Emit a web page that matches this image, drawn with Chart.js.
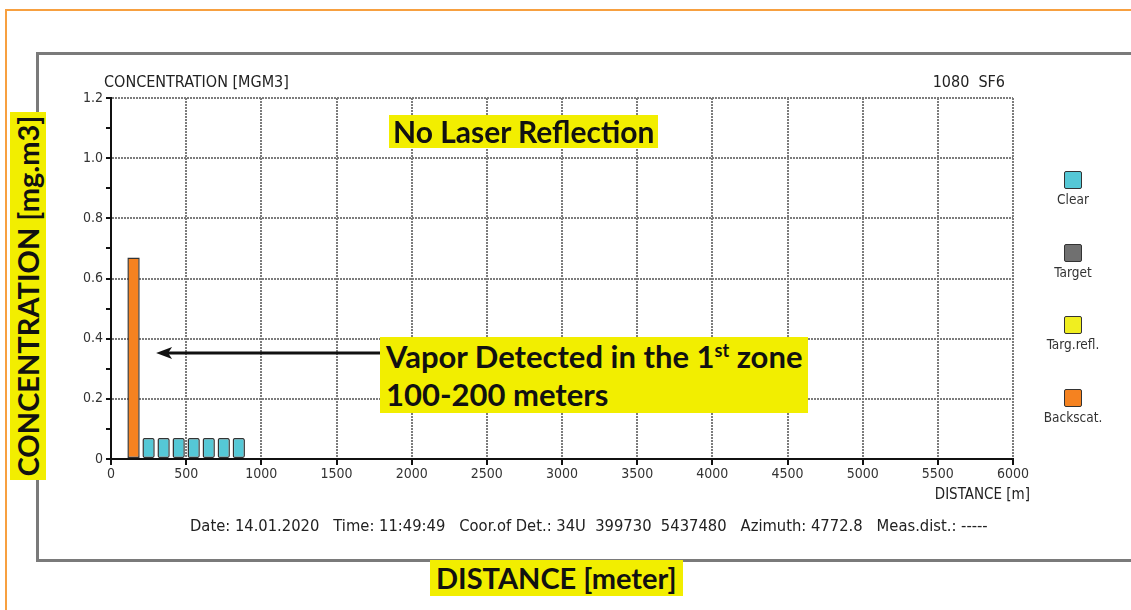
<!DOCTYPE html>
<html>
<head>
<meta charset="utf-8">
<script src="https://cdn.jsdelivr.net/npm/chart.js@4"></script>
<style>
  html, body { margin: 0; padding: 0; background: #fff; }
  #page { position: relative; width: 1131px; height: 610px; overflow: hidden; }
  #outer { position: absolute; left: 5px; top: 9px; width: 1140px; height: 620px; border: 2px solid #f7a040; box-sizing: border-box; }
  #frame { position: absolute; left: 36px; top: 52px; width: 1110px; height: 510px; border: 3px solid #7a7a7a; box-sizing: border-box; border-right: none; }
  #wrap { position: absolute; left: 0; top: 0; width: 1131px; height: 610px; }
  .small { position: absolute; font-family: "DejaVu Sans Condensed", "DejaVu Sans", sans-serif; font-size: 16px; color: #222; white-space: nowrap; }
  .note { position: absolute; background: #f2ee00; font-family: Lato, "Open Sans", sans-serif; font-weight: bold; color: #111; white-space: nowrap; }
  #legend { position: absolute; left: 1025px; top: 171px; width: 96px; }
  .item { text-align: center; height: 72.5px; font-family: "DejaVu Sans Condensed", "DejaVu Sans", sans-serif; font-size: 13.5px; color: #333; }
  .box { width: 16px; height: 16px; margin: 0 auto 2px auto; border: 1.5px solid #333; border-radius: 2px; }
</style>
</head>
<body>
<div id="page">
  <div id="outer"></div>
  <div id="frame"></div>
  <div id="wrap"><canvas id="chart" width="1131" height="610"></canvas></div>
  <div class="small" style="left:104px; top:72px;">CONCENTRATION [MGM3]</div>
  <div class="small" style="right:126px; top:72px;">1080&nbsp; SF6</div>
  <div class="small" style="right:101px; top:485px; font-size:15px;">DISTANCE [m]</div>
  <div class="small" style="left:190px; top:516px; font-size:16.4px;">Date: 14.01.2020&nbsp;&nbsp; Time: 11:49:49&nbsp;&nbsp; Coor.of Det.: 34U&nbsp; 399730&nbsp; 5437480&nbsp;&nbsp; Azimuth: 4772.8&nbsp;&nbsp; Meas.dist.: -----</div>
  <div class="note" style="left:389px; top:115px; padding:0 4px; font-size:30px; line-height:33px;">No Laser Reflection</div>
  <div class="note" style="left:380px; top:337px; padding:0 6px; font-size:31px; line-height:38px;">Vapor Detected in the 1<sup style="font-size:18px; line-height:0;">st</sup> zone<br>100-200 meters</div>
  <div class="note" style="left:10px; top:112px; width:36px; height:368px;">
    <div style="position:absolute; left:50%; top:50%; transform:translate(-50%,-50%) rotate(-90deg); font-size:29px; line-height:36px;">CONCENTRATION [mg.m3]</div>
  </div>
  <div class="note" style="left:430px; top:560px; padding:0 6px; font-size:29px; line-height:36px;">DISTANCE [meter]</div>
  <div id="legend"></div>
</div>
<script>
// distance bins (bar centres, m) and concentration values (mg.m3)
const clearDist = [250, 350, 450, 550, 650, 750, 850];
const clearConc = [0.07, 0.07, 0.07, 0.07, 0.07, 0.07, 0.07];
const backDist = [150];
const backConc = [0.67];
const legendNames = ['Clear', 'Target', 'Targ.refl.', 'Backscat.'];
const legendColors = ['#55c8d6', '#707070', '#f0ee20', '#f58220'];
const xTicks = [0, 500, 1000, 1500, 2000, 2500, 3000, 3500, 4000, 4500, 5000, 5500, 6000];
const yTicks = [0, 0.2, 0.4, 0.6, 0.8, 1.0, 1.2];

const toPoints = (xs, ys) => xs.map((x, i) => ({ x: x, y: ys[i] }));

const isMajor = v => Math.abs(v / 0.2 - Math.round(v / 0.2)) < 1e-6;

const arrowPlugin = {
  id: 'arrow',
  afterDatasetsDraw(chart) {
    const { ctx, scales } = chart;
    const y = scales.y.getPixelForValue(0.352);
    const x1 = scales.x.getPixelForValue(1790);
    const x2 = scales.x.getPixelForValue(300);
    ctx.save();
    ctx.strokeStyle = '#111';
    ctx.fillStyle = '#111';
    ctx.lineWidth = 3;
    ctx.beginPath();
    ctx.moveTo(x1, y);
    ctx.lineTo(x2 + 10, y);
    ctx.stroke();
    ctx.beginPath();
    ctx.moveTo(x2, y);
    ctx.lineTo(x2 + 16, y - 6);
    ctx.lineTo(x2 + 12, y);
    ctx.lineTo(x2 + 16, y + 6);
    ctx.closePath();
    ctx.fill();
    ctx.restore();
  }
};

const tickFont = { family: 'DejaVu Sans Condensed', size: 14 };
const gridGrey = '#7c7c7c';

new Chart(document.getElementById('chart'), {
  type: 'bar',
  data: {
    datasets: [
      { label: 'Backscat.', data: toPoints(backDist, backConc), backgroundColor: legendColors[3], borderColor: '#333', borderWidth: 1.5, borderSkipped: false },
      { label: 'Clear', data: toPoints(clearDist, clearConc), backgroundColor: legendColors[0], borderColor: '#333', borderWidth: 1.5, borderRadius: 2, borderSkipped: false },
      { label: 'Target', data: [], backgroundColor: legendColors[1] },
      { label: 'Targ.refl.', data: [], backgroundColor: legendColors[2] }
    ]
  },
  options: {
    responsive: false,
    animation: false,
    grouped: false,
    barPercentage: 0.82,
    categoryPercentage: 1,
    layout: { padding: { left: 0, top: 98, right: 118, bottom: 111 } },
    plugins: { legend: { display: false }, tooltip: { enabled: false } },
    scales: {
      x: {
        type: 'linear',
        offset: false,
        min: 0,
        max: 6000,
        afterBuildTicks: s => { s.ticks = xTicks.map(v => ({ value: v })); },
        afterFit: s => { s.height = 40; },
        border: { color: '#111', width: 2, dash: [2, 1] },
        grid: { offset: false, color: gridGrey, lineWidth: 2, tickColor: '#111', tickLength: 6, tickBorderDash: [] },
        ticks: { color: '#333', font: tickFont, padding: 1, maxRotation: 0, callback: v => String(v) }
      },
      y: {
        min: 0,
        max: 1.2,
        afterBuildTicks: s => {
          const t = [];
          for (let i = 0; i <= 24; i++) t.push({ value: i * 0.05 });
          s.ticks = t;
        },
        afterFit: s => { s.width = 111; },
        border: { color: '#111', width: 2, dash: [2, 1] },
        grid: {
          color: c => (c.tick && isMajor(c.tick.value) ? gridGrey : 'rgba(0,0,0,0)'),
          lineWidth: 2,
          tickColor: '#111',
          tickLength: 5,
          tickBorderDash: []
        },
        ticks: {
          color: '#333',
          font: tickFont,
          padding: 3,
          callback: v => (isMajor(v) && yTicks.some(t => Math.abs(t - v) < 1e-6) ? (v === 0 ? '0' : v.toFixed(1)) : '')
        }
      }
    }
  },
  plugins: [arrowPlugin]
});

// legend boxes with label below
const leg = document.getElementById('legend');
legendNames.forEach((name, i) => {
  const d = document.createElement('div');
  d.className = 'item';
  d.innerHTML = '<div class="box" style="background:' + legendColors[i] + '"></div>' + name;
  leg.appendChild(d);
});
</script>
</body>
</html>
